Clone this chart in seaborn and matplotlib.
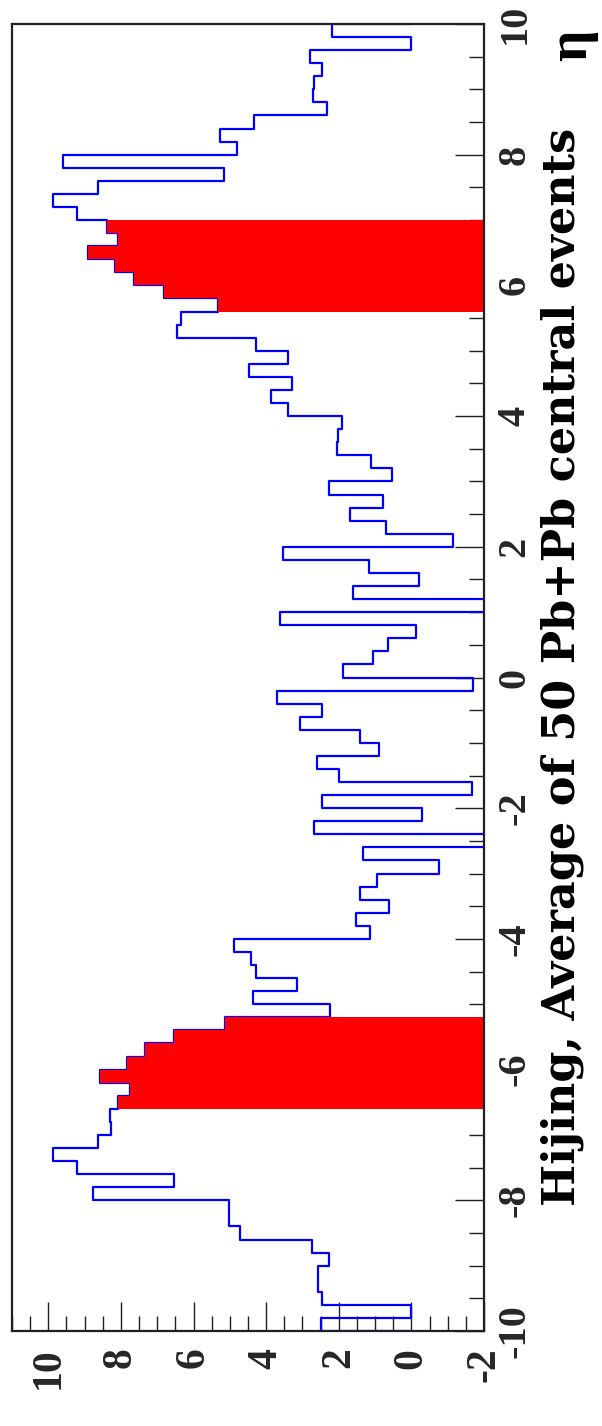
import numpy as np
import matplotlib
matplotlib.use("Agg")
import matplotlib.pyplot as plt
from matplotlib.ticker import MultipleLocator
import seaborn as sns

# ---------------- data ----------------
eta_min, eta_max, n_bins = -10.0, 10.0, 100

# bin contents of the blue histogram, from eta=-10 (first) to eta=+10 (last), bin width 0.2
blue_values = [
    2.50, 0.00, 2.47, 2.56, 2.56, 2.28, 2.74, 4.72, 5.03, 5.03,
    8.78, 6.54, 9.21, 9.88, 8.62, 8.27, 8.31, 8.08, 7.76, 8.57,
    7.84, 7.35, 6.55, 5.14, 2.23, 4.36, 3.14, 4.28, 4.42, 4.88,
    1.13, 1.53, 0.62, 1.41, 0.94, -0.76, 1.34, -2.30, 2.67, -0.28,
    2.47, -1.67, 2.00, 2.60, 0.90, 1.41, 3.07, 2.47, 3.69, -1.70,
    1.89, 1.06, 0.65, -0.13, 3.62, -2.30, 1.61, -0.20, 1.18, 3.53,
    -1.15, 0.70, 1.69, 0.78, 2.28, 0.53, 1.10, 2.04, 2.01, 1.92,
    3.39, 3.86, 3.30, 4.48, 3.39, 4.28, 6.45, 6.34, 5.32, 6.82,
    7.65, 8.16, 8.91, 8.08, 8.39, 9.21, 9.88, 8.62, 5.17, 9.60,
    4.80, 5.28, 4.33, 2.32, 2.72, 2.67, 2.47, 2.79, 0.00, 2.19,
]

# red (selected) regions
red_low_range = (-6.6, -5.2)
red_low_values = [8.08, 7.76, 8.57, 7.84, 7.35, 6.55, 5.14]
red_high_range = (5.6, 7.0)
red_high_values = [5.32, 6.82, 7.65, 8.16, 8.91, 8.08, 8.39]

value_ticks = [10, 8, 6, 4, 2, 0, -2]
eta_ticks = [-10, -8, -6, -4, -2, 0, 2, 4, 6, 8, 10]
title_text = "Hijing, Average of 50 Pb+Pb central events"
eta_label = "\u03b7"

# ---------------- figure ----------------
sns.set_theme(style="white")
plt.rcParams["font.family"] = ["Liberation Serif", "DejaVu Serif"]
plt.rcParams["font.weight"] = "bold"

W, H = 602, 1426
fig = plt.figure(figsize=(W / 100, H / 100), dpi=100)
fig.patch.set_facecolor("white")
ax = fig.add_axes([12 / W, 1 - 1331 / H, (484 - 12) / W, (1331 - 24) / H])
ax.set_facecolor("white")

edges = np.linspace(eta_min, eta_max, n_bins + 1)

# blue outline (step), closing on the 0 baseline at both ends
xs, ys = [0.0], [edges[0]]
for i, v in enumerate(blue_values):
    xs += [v, v]
    ys += [edges[i], edges[i + 1]]
xs.append(0.0)
ys.append(edges[-1])
sns.lineplot(x=xs, y=ys, orient="y", sort=False, estimator=None,
             color="#0000ff", linewidth=1.6, ax=ax, zorder=1.2)

# red filled histograms (baseline at frame minimum)
for rng, vals in [(red_low_range, red_low_values), (red_high_range, red_high_values)]:
    e = np.linspace(rng[0], rng[1], len(vals) + 1)
    ax.stairs(vals, e, orientation="horizontal", baseline=-2, fill=True,
              color="#ff0000", linewidth=0, zorder=1.5)

ax.set_xlim(11, -2)
ax.set_ylim(eta_min, eta_max)
ax.set_xlabel("")
ax.set_ylabel("")

for s in ax.spines.values():
    s.set_visible(True)
    s.set_color("#202020")
    s.set_linewidth(1.6)
    s.set_zorder(3)

ax.xaxis.set_ticks_position("bottom")
ax.yaxis.set_ticks_position("right")
ax.set_xticks(value_ticks)
ax.set_yticks(eta_ticks)
ax.xaxis.set_minor_locator(MultipleLocator(0.5))
ax.yaxis.set_minor_locator(MultipleLocator(0.5))
ax.tick_params(axis="both", which="major", direction="in", length=21, width=1.0,
               color="#202020", labelsize=30)
ax.tick_params(axis="both", which="minor", direction="in", length=10.5, width=1.0,
               color="#202020")
ax.tick_params(axis="x", which="major", pad=12, labelrotation=90)
ax.tick_params(axis="y", which="major", pad=9, labelrotation=90)
ax.set_xticklabels([str(t) for t in value_ticks], fontweight="bold")
ax.set_yticklabels([str(t) for t in eta_ticks], fontweight="bold", va="center")
for lab in ax.get_yticklabels():
    lab.set_rotation(90)
    lab.set_va("center")
    lab.set_ha("left")
    lab.set_fontsize(29)

fig.text(562 / W, 1 - 667 / H, title_text, rotation=90, ha="center", va="center",
         fontsize=32, fontweight="bold", color="black",
         family=["DejaVu Serif"])
fig.text(572 / W, 1 - 45 / H, eta_label, rotation=90, ha="center", va="center",
         fontsize=40, fontweight="bold", color="black")

fig.savefig("out.png", dpi=100, facecolor="white")
